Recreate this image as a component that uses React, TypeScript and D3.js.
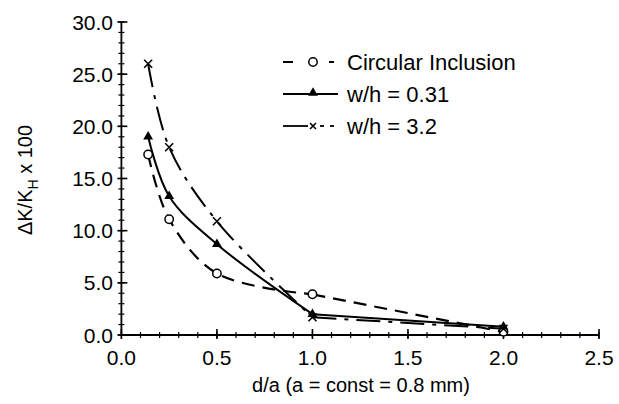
import React from 'react';
import * as d3 from 'd3';

const xValues = [0.14, 0.25, 0.5, 1.0, 2.0];
const circularValues = [17.3, 11.1, 5.9, 3.9, 0.3];
const wh031Values = [19.0, 13.3, 8.7, 2.0, 0.8];
const wh32Values = [26.0, 18.0, 10.9, 1.7, 0.6];
const xTicks = [0, 0.5, 1.0, 1.5, 2.0, 2.5];
const yTicks = [0, 5, 10, 15, 20, 25, 30];
const seriesNames = ['Circular Inclusion', 'w/h = 0.31', 'w/h = 3.2'];
const xTitle = 'd/a (a = const = 0.8 mm)';

const FONT = '"Liberation Sans", Arial, Helvetica, sans-serif';

function XMark({ cx, cy, s = 4 }: { cx: number; cy: number; s?: number }) {
  return (
    <path
      d={`M${cx - s},${cy - s}L${cx + s},${cy + s}M${cx - s},${cy + s}L${cx + s},${cy - s}`}
      stroke="#000"
      strokeWidth={1.6}
      fill="none"
    />
  );
}

function Tri({ cx, cy }: { cx: number; cy: number }) {
  const p = d3.symbol().type(d3.symbolTriangle).size(42)();
  return <path d={p || ''} transform={`translate(${cx},${cy})`} fill="#000" />;
}

function Circ({ cx, cy }: { cx: number; cy: number }) {
  return <circle cx={cx} cy={cy} r={4.2} fill="#fff" stroke="#000" strokeWidth={1.5} />;
}

export default function App() {
  const x = d3.scaleLinear().domain([0, 2.5]).range([121.4, 599]);
  const y = d3.scaleLinear().domain([0, 30]).range([335, 22]);

  const smooth = d3
    .line<[number, number]>()
    .x((d) => x(d[0]))
    .y((d) => y(d[1]))
    .curve(d3.curveCatmullRom.alpha(0.5));
  const straight = d3
    .line<[number, number]>()
    .x((d) => x(d[0]))
    .y((d) => y(d[1]));

  const mk = (vals: number[]) => xValues.map((v, i) => [v, vals[i]] as [number, number]);
  const circData = mk(circularValues);
  const tri031 = mk(wh031Values);
  const x32 = mk(wh32Values);

  const pathFor = (pts: [number, number][]) =>
    (smooth(pts.slice(0, 4)) || '') + (straight(pts.slice(3)) || '');

  const xMinor = d3.range(0, 2.5001, 0.1);
  const yMinor = d3.range(0, 30.001, 1);

  const x0 = x(0);
  const y0 = y(0);

  const legX = 283;
  const legY = [62, 94, 126];

  return (
    <svg
      width={619}
      height={404}
      style={{ position: 'absolute', left: 0, top: 0, background: '#fff' }}
      fontFamily={FONT}
    >
      <rect width={619} height={404} fill="#fff" />
      {/* axes */}
      <line x1={x0} x2={x(2.5)} y1={y0} y2={y0} stroke="#000" strokeWidth={1.8} />
      <line x1={x0} x2={x0} y1={y0} y2={y(30)} stroke="#000" strokeWidth={1.8} />
      {xMinor.map((t, i) => (
        <line key={'xm' + i} x1={x(t)} x2={x(t)} y1={y0 - 3} y2={y0 + 3} stroke="#000" strokeWidth={1.2} />
      ))}
      {xTicks.map((t, i) => (
        <line key={'xM' + i} x1={x(t)} x2={x(t)} y1={y0 - 6} y2={y0 + 4} stroke="#000" strokeWidth={1.6} />
      ))}
      {yMinor.map((t, i) => (
        <line key={'ym' + i} x1={x0 - 3} x2={x0 + 3} y1={y(t)} y2={y(t)} stroke="#000" strokeWidth={1.2} />
      ))}
      {yTicks.map((t, i) => (
        <line key={'yM' + i} x1={x0 - 4} x2={x0 + 6} y1={y(t)} y2={y(t)} stroke="#000" strokeWidth={1.6} />
      ))}
      {xTicks.map((t, i) => (
        <text key={'xl' + i} x={x(t)} y={365} textAnchor="middle" fontSize={21} fill="#000">
          {t.toFixed(1)}
        </text>
      ))}
      {yTicks.map((t, i) => (
        <text key={'yl' + i} x={113} y={y(t) + 7.5} textAnchor="end" fontSize={21} fill="#000">
          {t.toFixed(1)}
        </text>
      ))}
      <text x={361} y={392} textAnchor="middle" fontSize={20} fill="#000">
        {xTitle}
      </text>
      <text transform="translate(32,180) rotate(-90)" textAnchor="middle" fontSize={20} fill="#000">
        ΔK/K
        <tspan dy={6} fontSize={14}>H</tspan>
        <tspan dy={-6}> x 100</tspan>
      </text>

      {/* series lines */}
      <path d={pathFor(circData)} fill="none" stroke="#000" strokeWidth={2.2} strokeDasharray="13,8" />
      <path d={pathFor(tri031)} fill="none" stroke="#000" strokeWidth={2} />
      <path d={pathFor(x32)} fill="none" stroke="#000" strokeWidth={2} strokeDasharray="24,8,4,8" />

      {circData.map((d, i) => (
        <Circ key={'c' + i} cx={x(d[0])} cy={y(d[1])} />
      ))}
      {tri031.map((d, i) => (
        <Tri key={'t' + i} cx={x(d[0])} cy={y(d[1])} />
      ))}
      {x32.map((d, i) => (
        <XMark key={'x' + i} cx={x(d[0])} cy={y(d[1])} />
      ))}

      {/* legend */}
      <line x1={legX} x2={legX + 10} y1={legY[0]} y2={legY[0]} stroke="#000" strokeWidth={2} />
      <Circ cx={legX + 30} cy={legY[0]} />
      <line x1={legX + 46} x2={legX + 51} y1={legY[0]} y2={legY[0]} stroke="#000" strokeWidth={2} />
      <text x={347} y={legY[0] + 8} fontSize={22} fill="#000">{seriesNames[0]}</text>

      <line x1={legX} x2={legX + 55} y1={legY[1]} y2={legY[1]} stroke="#000" strokeWidth={1.8} />
      <Tri cx={legX + 30} cy={legY[1] - 1} />
      <text x={347} y={legY[1] + 8} fontSize={22} fill="#000">{seriesNames[1]}</text>

      <line x1={legX} x2={legX + 25} y1={legY[2]} y2={legY[2]} stroke="#000" strokeWidth={1.8} />
      <XMark cx={legX + 30} cy={legY[2]} s={3} />
      <line x1={legX + 37} x2={legX + 41} y1={legY[2]} y2={legY[2]} stroke="#000" strokeWidth={1.8} />
      <line x1={legX + 47} x2={legX + 51} y1={legY[2]} y2={legY[2]} stroke="#000" strokeWidth={1.8} />
      <text x={347} y={legY[2] + 8} fontSize={22} fill="#000">{seriesNames[2]}</text>
    </svg>
  );
}
